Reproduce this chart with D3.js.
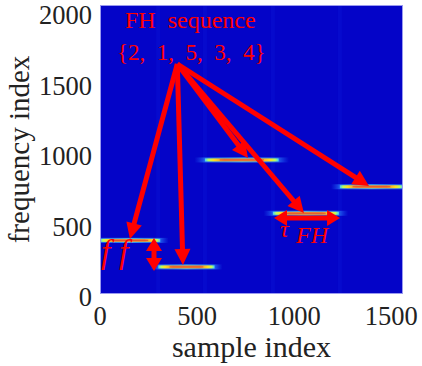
<!DOCTYPE html>
<html>
<head>
<meta charset="utf-8">
<script src="https://cdn.jsdelivr.net/npm/d3@7"></script>
<style>
  body { margin: 0; background: #fff; }
</style>
</head>
<body>
<div id="chart"></div>
<script>
// hop data (sample index / frequency index)
const hopStart = [0, 300, 540, 890, 1235];
const hopEnd = [310, 590, 920, 1230, 1560];
const hopFreq = [380, 192, 950, 572, 760];

const xTicks = [0, 500, 1000, 1500];
const yTicks = [0, 500, 1000, 1500, 2000];

// annotation arrows: common origin and tips, in data units
const arrowOrigin = [398, 1630];
const arrowTips = [[154, 390], [427, 205], [762, 964], [1050, 574], [1385, 765]];
const tauArrow = [[896, 539], [1236, 539]];
const deltaArrow = [[278, 397], [278, 163]];

const width = 422, height = 366;
const margin = { top: 5, right: 19, bottom: 72, left: 100 };
const serif = '"Liberation Serif", "Times New Roman", Times, serif';

const svg = d3.select('#chart').append('svg')
  .attr('width', width)
  .attr('height', height)
  .attr('font-family', serif);

const x = d3.scaleLinear().domain([0, 1560]).range([margin.left, width - margin.right]);
const y = d3.scaleLinear().domain([0, 2048]).range([height - margin.bottom, margin.top]);

const defs = svg.append('defs');

// glow gradient along the hop
const glow = defs.append('linearGradient').attr('id', 'glow');
[[0, '#1e6bff', 0], [0.12, '#2f8fff', 0.7], [0.5, '#40d8ff', 0.85], [0.88, '#2f8fff', 0.7], [1, '#1e6bff', 0]]
  .forEach(s => glow.append('stop').attr('offset', s[0]).attr('stop-color', s[1]).attr('stop-opacity', s[2]));

const core = defs.append('linearGradient').attr('id', 'core');
[[0, '#40d0ff'], [0.05, '#b8ff60'], [0.12, '#ffe020'], [0.26, '#f09030'], [0.74, '#f09030'], [0.88, '#ffe020'], [0.95, '#b8ff60'], [1, '#40d0ff']]
  .forEach(s => core.append('stop').attr('offset', s[0]).attr('stop-color', s[1]));

defs.append('clipPath').attr('id', 'plotclip').append('rect')
  .attr('x', x(0)).attr('y', y(2048))
  .attr('width', x(1560) - x(0)).attr('height', y(0) - y(2048));

// background
svg.append('rect')
  .attr('x', x(0)).attr('y', y(2048))
  .attr('width', x(1560) - x(0)).attr('height', y(0) - y(2048))
  .attr('fill', '#0404c8');

const img = svg.append('g').attr('clip-path', 'url(#plotclip)');

// faint vertical bands at hop boundaries
img.selectAll('.band')
  .data(hopStart.slice(1))
  .enter().append('rect')
  .attr('x', d => x(d) - 2)
  .attr('y', y(2048))
  .attr('width', 4)
  .attr('height', y(0) - y(2048))
  .attr('fill', '#2040ff')
  .attr('opacity', 0.1);

hopStart.forEach((s, i) => {
  const e = hopEnd[i];
  const tail = (e - s) * 0.14;
  const yc = y(hopFreq[i]);
  img.append('rect')
    .attr('x', x(s - tail)).attr('y', yc - 2.5)
    .attr('width', x(e + tail) - x(s - tail)).attr('height', 5)
    .attr('fill', 'url(#glow)');
  img.append('rect')
    .attr('x', x(s)).attr('y', yc - 1.5)
    .attr('width', x(e) - x(s)).attr('height', 3)
    .attr('fill', 'url(#core)');
  img.append('rect')
    .attr('x', x(s + (e - s) * 0.2)).attr('y', yc - 0.5)
    .attr('width', (x(e) - x(s)) * 0.6).attr('height', 1)
    .attr('fill', '#e0402c')
    .attr('opacity', 0.8);
});

// axes box
svg.append('rect')
  .attr('x', x(0) + 0.5).attr('y', y(2048) + 0.5)
  .attr('width', x(1560) - x(0) - 1).attr('height', y(0) - y(2048) - 1)
  .attr('fill', 'none')
  .attr('stroke', '#9a9af0')
  .attr('stroke-width', 1);

// tick labels
svg.selectAll('.xt')
  .data(xTicks)
  .enter().append('text')
  .attr('x', d => x(d))
  .attr('y', 325)
  .attr('text-anchor', 'middle')
  .attr('font-size', 26.5)
  .attr('fill', '#222')
  .text(d => d);

svg.selectAll('.yt')
  .data(yTicks)
  .enter().append('text')
  .attr('x', 92)
  .attr('y', d => y(d) + 3)
  .attr('dy', '0.35em')
  .attr('text-anchor', 'end')
  .attr('font-size', 26.5)
  .attr('fill', '#222')
  .text(d => d);

svg.append('text')
  .attr('x', (x(0) + x(1560)) / 2)
  .attr('y', 357)
  .attr('text-anchor', 'middle')
  .attr('font-size', 30)
  .attr('fill', '#222')
  .text('sample index');

svg.append('text')
  .attr('transform', 'translate(29,' + (y(0) + y(2048)) / 2 + ') rotate(-90)')
  .attr('text-anchor', 'middle')
  .attr('font-size', 29)
  .attr('fill', '#222')
  .text('frequency index');

// annotations
const red = '#ff0000';
const ann = svg.append('g');

function head(tx, ty, fx, fy, len, half) {
  const dx = tx - fx, dy = ty - fy;
  const l = Math.hypot(dx, dy);
  const ux = dx / l, uy = dy / l;
  const bx = tx - ux * len, by = ty - uy * len;
  return [[tx, ty], [bx - uy * half, by + ux * half], [bx + uy * half, by - ux * half]];
}

function arrow(p0, p1, both) {
  const x0 = x(p0[0]), y0 = y(p0[1]), x1 = x(p1[0]), y1 = y(p1[1]);
  const l = Math.hypot(x1 - x0, y1 - y0);
  const ux = (x1 - x0) / l, uy = (y1 - y0) / l;
  const hl = both ? 13 : 16;
  const sx = both ? x0 + ux * hl * 0.8 : x0, sy = both ? y0 + uy * hl * 0.8 : y0;
  ann.append('line')
    .attr('x1', sx).attr('y1', sy)
    .attr('x2', x1 - ux * hl * 0.8).attr('y2', y1 - uy * hl * 0.8)
    .attr('stroke', red)
    .attr('stroke-width', 5);
  ann.append('polygon')
    .attr('points', head(x1, y1, x0, y0, hl, 8).join(' '))
    .attr('fill', red);
  if (both) {
    ann.append('polygon')
      .attr('points', head(x0, y0, x1, y1, hl, 8).join(' '))
      .attr('fill', red);
  }
}

arrowTips.forEach(t => arrow(arrowOrigin, t, false));
arrow(tauArrow[0], tauArrow[1], true);
arrow(deltaArrow[0], deltaArrow[1], true);

ann.append('text')
  .attr('x', 125).attr('y', 28)
  .attr('font-size', 24)
  .attr('fill', red)
  .style('white-space', 'pre')
  .text('FH  sequence');

ann.append('text')
  .attr('x', 117).attr('y', 60)
  .attr('font-size', 23)
  .attr('fill', red)
  .style('white-space', 'pre')
  .text('{2,  1,  5,  3,  4}');

ann.append('text')
  .attr('x', 101).attr('y', 263)
  .attr('font-size', 34)
  .attr('font-style', 'italic')
  .attr('fill', red)
  .style('white-space', 'pre')
  .text('f f');

ann.append('text')
  .attr('x', 280).attr('y', 237)
  .attr('font-size', 24)
  .attr('font-style', 'italic')
  .attr('fill', red)
  .text('τ');

ann.append('text')
  .attr('x', 296).attr('y', 243)
  .attr('font-size', 24)
  .attr('font-style', 'italic')
  .attr('fill', red)
  .text('FH');
</script>
</body>
</html>
